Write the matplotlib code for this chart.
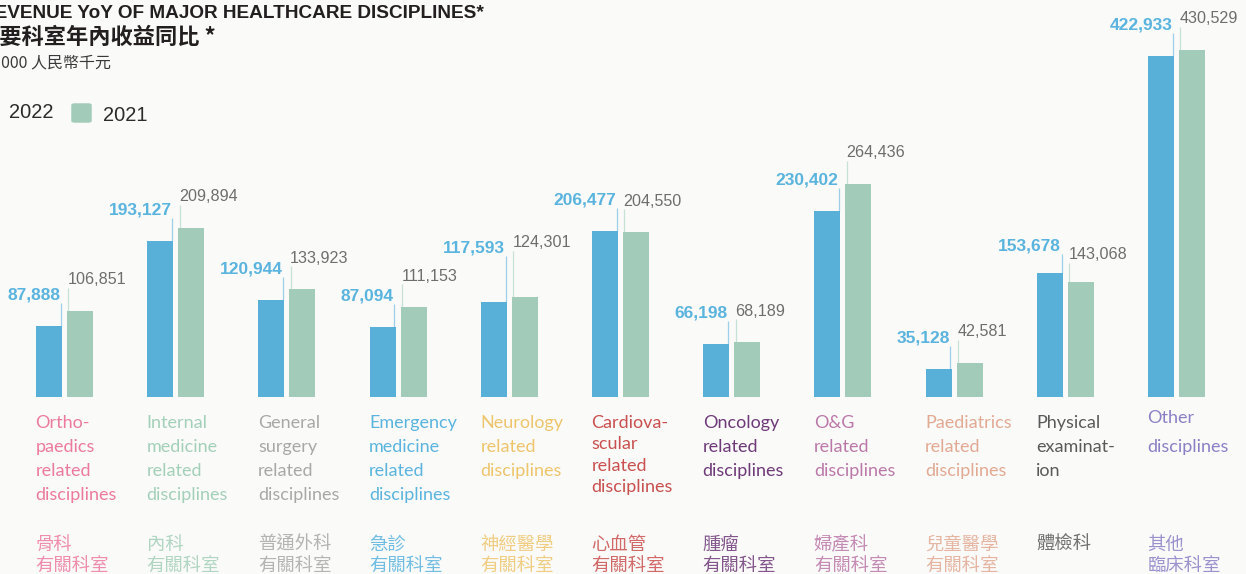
import matplotlib
matplotlib.use("Agg")
import matplotlib.pyplot as plt
import matplotlib.transforms as mtransforms
from matplotlib.patches import FancyBboxPatch

# ---- data ----
categories_en = [
    ["Ortho-", "paedics", "related", "disciplines"],
    ["Internal", "medicine", "related", "disciplines"],
    ["General", "surgery", "related", "disciplines"],
    ["Emergency", "medicine", "related", "disciplines"],
    ["Neurology", "related", "disciplines"],
    ["Cardiova-", "scular", "related", "disciplines"],
    ["Oncology", "related", "disciplines"],
    ["O&G", "related", "disciplines"],
    ["Paediatrics", "related", "disciplines"],
    ["Physical", "examinat-", "ion"],
    ["Other", "disciplines"],
]
categories_zh = [
    ["骨科", "有關科室"],
    ["內科", "有關科室"],
    ["普通外科", "有關科室"],
    ["急診", "有關科室"],
    ["神經醫學", "有關科室"],
    ["心血管", "有關科室"],
    ["腫瘤", "有關科室"],
    ["婦產科", "有關科室"],
    ["兒童醫學", "有關科室"],
    ["體檢科"],
    ["其他", "臨床科室"],
]
rev_2022 = [87888, 193127, 120944, 87094, 117593, 206477, 66198, 230402, 35128, 153678, 422933]
rev_2021 = [106851, 209894, 133923, 111153, 124301, 204550, 68189, 264436, 42581, 143068, 430529]
label_colors = ["#ec7aa0", "#a3d0b9", "#a8a8a8", "#5ab4de", "#eec56c", "#c9504e",
                "#6e3a78", "#bb78a8", "#e2a993", "#5a5a5a", "#8b7fc6"]

# ---- layout (pixels) ----
W, H = 1246, 574
BASE = 397          # baseline of bars, px from top
SCALE = 0.000806    # px per RMB'000
STEP = 111.2        # px between groups
C0 = 64.5           # px centre of first group
BAR_W = 26 / STEP
OFF = 15.5 / STEP
PX = 1 / STEP       # one pixel in data units along x
LIFT = 31           # value label height above bar top, px
lift_special = {4: 54, 9: 27}

BLUE = "#58b0d8"
GREEN = "#a2cbb9"

fig = plt.figure(figsize=(W / 100, H / 100), dpi=100)
fig.patch.set_facecolor("#fafaf9")


def fy(y):
    return 1 - y / H


def fx(x):
    return x / W


ax = fig.add_axes([0, fy(BASE), 1, 387 / H])
ax.set_xlim(-C0 / STEP, (W - C0) / STEP)
ax.set_ylim(0, 387 / SCALE)
ax.axis("off")

n = len(rev_2022)
xs = list(range(n))
bx = [x - OFF for x in xs]
gx = [x + OFF for x in xs]
ax.bar(bx, rev_2022, width=BAR_W, color=BLUE, zorder=2)
ax.bar(gx, rev_2021, width=BAR_W, color=GREEN, zorder=2)

for i in xs:
    lift = lift_special.get(i, LIFT)
    stem = (lift - 8) / SCALE
    xb = bx[i] + BAR_W / 2 - 1.2 * PX
    xg = gx[i] - BAR_W / 2 + 1.3 * PX
    ax.vlines(xb, rev_2022[i], rev_2022[i] + stem, color="#9ccfe8", lw=0.9, zorder=1)
    ax.vlines(xg, rev_2021[i], rev_2021[i] + stem, color="#c6e2d5", lw=0.9, zorder=1)
    ax.annotate(f"{rev_2022[i]:,}", xy=(xb - 0.6 * PX, rev_2022[i]), xytext=(0, lift * 0.72),
                textcoords="offset points", ha="right", va="center",
                fontsize=12.5, fontweight="bold", color="#5ab4de",
                family="Liberation Sans", annotation_clip=False)
    ax.annotate(f"{rev_2021[i]:,}", xy=(xg - 0.6 * PX, rev_2021[i]), xytext=(0, lift * 0.72),
                textcoords="offset points", ha="left", va="center",
                fontsize=11.6, color="#6e6e6e",
                family="Liberation Sans", annotation_clip=False)

# ---- category labels ----
trans = mtransforms.blended_transform_factory(ax.transData, fig.transFigure)
for i in xs:
    left = bx[i] - BAR_W / 2 - 0.5 * PX
    start, gap = 428, 24
    if i == 5:
        gap = 21.3
    if i == 10:
        start, gap = 423, 29
    for k, line in enumerate(categories_en[i]):
        fig.text(left, fy(start + k * gap), line, transform=trans, ha="left",
                 va="baseline", fontsize=13, color=label_colors[i], family="Lato")
    for k, line in enumerate(categories_zh[i]):
        fig.text(left, fy(545 + k * 20.5), line, transform=trans, ha="left",
                 va="center", fontsize=13.2, color=label_colors[i],
                 family=["Noto Sans CJK TC", "DejaVu Sans"], alpha=0.85)

# ---- titles (cropped on the left as in the source) ----
fig.text(fx(484), fy(18), "REVENUE YoY OF MAJOR HEALTHCARE DISCIPLINES*", ha="right",
         va="baseline", fontsize=13.7, fontweight="bold", color="#231f20",
         family="Liberation Sans")
fig.text(fx(216), fy(37), "主要科室年內收益同比 *", ha="right", va="center",
         fontsize=16, fontweight="bold", color="#231f20",
         family=["Noto Sans CJK TC", "DejaVu Sans"])
fig.text(fx(111), fy(63), "RMB'000 人民幣千元", ha="right", va="center",
         fontsize=11.5, color="#3a3a3a", family=["Noto Sans CJK TC", "DejaVu Sans"])

# ---- legend ----
for x0, col, txt, ty in [(-21, BLUE, "2022", 112.5), (73, GREEN, "2021", 115.5)]:
    fig.patches.append(FancyBboxPatch((fx(x0 + 2), fy(121)), fx(13), 16 / H,
                                      boxstyle="round,pad=0.003", transform=fig.transFigure,
                                      facecolor=col, edgecolor="none"))
    fig.text(fx(x0 + 30), fy(ty), txt, ha="left", va="center", fontsize=14.4,
             color="#2b2b2b", family="Liberation Sans")

fig.savefig("out.png", dpi=100, facecolor=fig.get_facecolor())
